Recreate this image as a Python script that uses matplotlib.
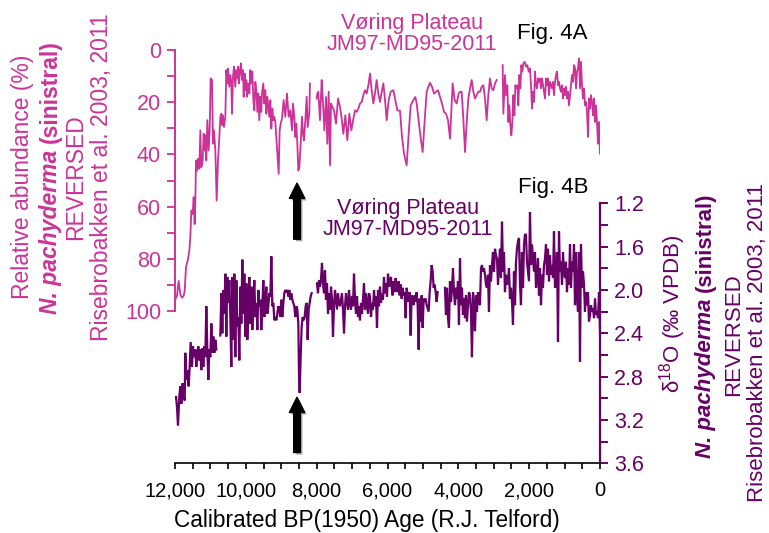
import numpy as np
import matplotlib
matplotlib.use('Agg')
import matplotlib.pyplot as plt
from matplotlib.ticker import MultipleLocator, FuncFormatter
import matplotlib.patheffects as pe

plt.rcParams['font.family'] = ['Liberation Sans', 'DejaVu Sans']
plt.rcParams['mathtext.fontset'] = 'custom'
plt.rcParams['mathtext.rm'] = 'Liberation Sans'

PINK = '#CC3399'
PURPLE = '#660066'
nan = np.nan

# ---- Fig 4A: relative abundance of N. pachyderma (sinistral), % (reversed axis)
pink_age = [12000, 11990, 11944, 11897, 11850, 11803, 11756, 11727, 11690, 11633,
            11596, 11567, 11539, 11501, 11473, 11445, 11426, 11407, 11379, 11351,
            11313, 11285, 11257, 11219, 11191, 11163, 11144, 11116, 11087, 11050,
            11021, 10993, 10955, 10927, 10899, 10861, 10824, 10786, 10748, 10720,
            10692, 10673, 10645, 10617, 10579, 10551, 10523, 10504, 10466, 10438,
            10410, 10391, 10363, 10334, 10297, 10268, 10240, 10221, 10193, 10165,
            10137, 10108, 10080, 10061, 10033, 10014, 9986, 9967, 9939, 9901,
            9873, 9845, 9817, 9788, 9760, 9732, 9704, 9675, 9647, 9619,
            9591, 9563, 9544, 9506, 9478, 9450, 9421, 9393, 9365, 9337,
            9308, 9280, 9252, 9224, 9195, 9167, 9073, 9045, 9017, 8979,
            8932, 8885, 8838, 8791, 8744, 8697, 8668, 8631, 8602, 8574,
            8546, 8518, 8489, 8452, 8414, 8386, 8358, 8320, 8282, 8254,
            8207, 8190, nan,
            8000, 7981, 7953, 7906, 7859, 7830, 7783, 7736, 7699, 7661,
            7623, 7595, 7557, 7510, 7454, 7397, 7341, 7294, 7247, 7190,
            7134, 7077, 7021, 6964, 6917, 6870, 6823, 6776, 6729, 6682,
            6635, 6588, 6531, 6494, 6447, 6400, 6353, 6306, 6259, 6211,
            6164, 6117, 6070, 6023, 5967, 5910, 5835, 5778, 5722, 5647,
            5590, 5534, 5459, 5402, 5346, 5270, 5214, 5176, 5101, 5054,
            5007, 4950, 4894, 4847, 4800, 4743, 4687, 4630, 4574, 4517,
            4461, 4404, 4348, 4291, 4235, 4197, 4160, 4103, 4047, 3990,
            3953, 3906, 3859, 3811, 3764, 3717, 3670, 3623, 3576, 3529,
            3482, 3435, 3388, 3341, 3294, 3247, 3200, 3153, 3106, 3059,
            3011, 2964, 2917, nan,
            2748, 2729, 2682, 2654, 2616, 2588, 2560, 2531, 2503, 2475,
            2447, 2418, 2390, 2362, 2334, 2306, 2277, 2249, 2221, 2193,
            2164, 2127, 2089, 2051, 2014, 1976, 1948, 1920, 1891, 1863,
            1835, 1807, 1778, 1750, 1722, 1694, 1666, 1637, 1609, 1581,
            1553, 1524, 1496, 1468, 1440, 1411, 1383, 1355, 1327, 1298,
            1270, 1242, 1214, 1186, 1157, 1129, 1101, 1073, 1044, 1016,
            988, 960, 931, 903, 875, 847, 818, 790, 762, 734,
            705, 677, 649, 621, 593, 564, 536, 508, 480, 451,
            423, 395, 367, 338, 310, 282, 254, 225, 197, 169,
            141, 113, 85, 56, 28, 0]
pink_val = [94.9, 95.5, 94.2, 88.5, 93.6, 94.9, 94.2, 92.3, 83.3, 80.1,
            76.9, 71.8, 61.5, 62.8, 56.4, 66.7, 57.7, 42.3, 46.2, 41.7,
            45.5, 30.8, 44.9, 42.3, 32.1, 38.5, 32.7, 42.3, 26.9, 38.5,
            30.8, 10.9, 11.5, 35.9, 30.8, 38.5, 57.7, 42.3, 33.3, 25.6,
            24.4, 28.8, 25.0, 29.5, 25.6, 7.7, 12.8, 7.1, 14.1, 9.6,
            12.2, 24.4, 10.3, 6.4, 14.1, 7.7, 10.9, 6.4, 12.8, 7.7,
            5.1, 11.5, 7.7, 17.9, 9.0, 15.4, 11.5, 17.9, 12.8, 16.7,
            7.7, 12.8, 8.3, 19.2, 23.1, 12.2, 15.4, 23.7, 16.7, 26.9,
            17.9, 23.7, 16.7, 12.8, 20.5, 15.4, 24.4, 17.9, 21.8, 25.6,
            19.2, 30.1, 22.4, 26.9, 25.6, 27.6, 47.4, 30.8, 28.2, 26.3,
            19.2, 25.6, 16.7, 25.6, 23.1, 30.8, 20.5, 25.6, 33.3, 28.2,
            35.9, 46.2, 44.9, 35.9, 25.6, 32.1, 34.6, 26.9, 17.9, 29.5,
            24.0, 12.8, nan,
            18.6, 16.7, 16.0, 26.9, 11.5, 18.0, 30.8, 18.0, 35.9, 16.0,
            44.2, 20.5, 21.8, 23.1, 28.2, 18.6, 21.8, 26.3, 32.1, 25.0,
            34.6, 24.4, 30.8, 26.3, 23.1, 23.7, 22.4, 20.5, 19.9, 17.3,
            15.4, 16.7, 12.8, 9.0, 15.4, 20.5, 16.7, 11.5, 16.7, 19.9,
            16.0, 12.8, 19.2, 26.9, 19.2, 16.0, 15.4, 19.2, 23.1, 23.3,
            33.3, 39.7, 44.2, 32.1, 21.2, 19.2, 18.0, 20.5, 29.5, 34.6,
            39.1, 26.9, 16.0, 14.1, 12.6, 14.1, 16.7, 16.0, 15.4, 18.0,
            20.5, 23.7, 24.4, 26.9, 34.0, 23.1, 12.8, 19.2, 20.5, 16.7,
            16.0, 16.0, 26.3, 39.1, 27.6, 18.6, 14.7, 11.5, 16.0, 18.6,
            17.3, 16.0, 16.0, 14.1, 13.5, 18.6, 26.9, 17.3, 10.9, 14.7,
            15.4, 12.8, 11.5, nan,
            5.8, 24.4, 9.6, 17.3, 13.5, 27.6, 21.2, 28.8, 32.7, 27.6,
            17.3, 25.0, 13.5, 14.7, 13.5, 21.2, 9.6, 14.7, 5.8, 8.3,
            5.1, 4.5, 6.4, 5.8, 8.3, 7.0, 13.5, 22.4, 16.0, 19.9,
            8.3, 13.5, 14.7, 10.9, 12.2, 10.9, 14.7, 10.9, 13.5, 16.0,
            18.6, 10.9, 13.5, 10.9, 17.3, 12.2, 13.5, 14.7, 12.2, 17.3,
            12.2, 9.6, 8.3, 13.5, 12.2, 14.7, 16.0, 13.5, 18.6, 14.7,
            17.3, 14.1, 18.6, 16.0, 21.2, 17.3, 13.5, 9.6, 12.2, 5.8,
            7.0, 14.7, 8.3, 7.0, 3.2, 14.7, 4.5, 13.5, 18.6, 14.7,
            21.2, 19.9, 23.7, 33.3, 18.6, 22.4, 17.3, 19.9, 25.0, 18.6,
            27.6, 21.2, 27.6, 35.9, 27.6, 39.7]

# ---- Fig 4B: d18O of N. pachyderma (sinistral), permil VPDB (reversed axis)
purple_age = [12000, 11972, 11944, 11916, 11878, 11850, 11821, 11784, 11756, 11727,
              11709, 11680, 11652, 11614, 11586, 11558, 11520, 11492, 11464, 11426,
              11398, 11370, 11341, 11313, 11285, 11257, 11229, 11200, 11172, 11144,
              11116, 11087, 11059, 11031, 11003, 10974, 10946, 10918, 10890, 10861,
              10833, nan,
              10720, 10692, 10664, 10636, 10607, 10579, 10551, 10523, 10494, 10466,
              10438, 10410, 10381, 10353, 10325, 10297, 10268, 10240, 10212, 10184,
              10155, 10127, 10099, 10071, 10043, 10014, 9986, 9958, 9930, 9901,
              9873, 9845, 9817, 9788, 9760, 9732, 9704, 9675, 9647, 9619,
              9591, 9563, 9534, 9506, 9478, 9450, 9421, 9393, 9365, 9337,
              9308, 9280, 9252, 9224, 9195, 9167, 9139, 9111, 9083, 9054,
              9026, 8998, 8970, 8941, 8913, 8885, 8857, 8828, 8800, 8772,
              8744, 8716, 8687, 8659, 8631, 8603, 8574, 8546, 8518, 8499,
              8480, 8452, 8424, 8396, 8367, 8339, 8311, 8283, 8254, 8226,
              8198, 8170, 8141, nan,
              7991, 7963, 7934, 7906, 7878, 7850, 7821, 7793, 7765, 7737,
              7708, 7680, 7652, 7624, 7595, 7567, 7539, 7511, 7483, 7454,
              7426, 7398, 7370, 7341, 7313, 7285, 7257, 7228, 7200, 7172,
              7144, 7115, 7087, 7059, 7031, 7002, 6974, 6946, 6918, 6889,
              6861, 6833, 6805, 6777, 6748, 6720, 6692, 6664, 6635, 6607,
              6579, 6551, 6523, 6494, 6466, 6438, 6410, 6381, 6353, 6325,
              6297, 6268, 6240, 6212, 6184, 6156, 6127, 6099, 6071, 6043,
              6014, 5986, 5958, 5930, 5901, 5883, 5855, 5826, 5798, 5770,
              5742, 5713, 5685, 5657, 5629, 5600, 5572, 5544, 5516, 5487,
              5459, 5431, 5403, 5374, 5346, 5318, 5290, 5262, 5233, 5205,
              5177, 5149, 5120, 5092, 5064, 5036, 5007, 4979, 4951, 4923,
              4895, 4866, 4838, 4810, 4782, 4753, 4725, 4697, 4669, 4640,
              4612, 4584, nan,
              4377, 4349, 4320, 4292, 4264, 4236, 4207, 4179, 4151, 4123,
              4094, 4066, 4038, 4010, 3982, 3953, 3925, 3897, 3869, 3840,
              3812, 3784, 3756, 3727, 3699, 3671, 3643, 3615, 3586, 3558,
              3530, 3502, 3473, 3445, 3417, 3389, 3360, 3332, 3304, 3276,
              3247, 3219, 3191, 3163, 3135, 3106, 3078, 3050, 3022, 2993,
              2965, 2937, 2909, 2880, 2852, 2824, 2796, 2767, 2739, 2711,
              2683, 2655, 2626, 2598, 2570, 2542, 2513, 2485, 2457, 2429,
              2400, 2372, 2344, 2316, 2287, 2259, 2231, 2203, 2174, 2146,
              2118, 2090, 2062, 2033, 2005, 1977, 1949, 1920, 1892, 1864,
              1836, 1807, 1779, 1751, 1723, 1694, 1666, 1638, 1610, 1582,
              1553, 1525, 1497, 1469, 1440, 1412, 1384, 1356, 1327, 1299,
              1271, 1243, 1214, 1186, 1158, 1130, 1102, 1073, 1045, 1017,
              989, 960, 932, 904, 876, 847, 819, 791, 763, 734,
              706, 678, 650, 621, 593, 565, 537, 509, 480, 452,
              424, 396, 367, 339, 311, 282, 254, 226, 198, 169,
              141, 113, 85, 56, 28, 0]
purple_val = [3.00, 2.98, 3.08, 3.25, 2.98, 2.89, 3.05, 2.86, 2.98, 3.02,
              2.58, 2.83, 2.74, 2.89, 2.71, 2.48, 2.71, 2.52, 2.62, 2.55,
              2.71, 2.58, 2.52, 2.65, 2.55, 2.74, 2.54, 2.71, 2.52, 2.62,
              2.15, 2.55, 2.83, 2.55, 2.62, 2.31, 2.58, 2.43, 2.58, 2.46,
              2.55, nan,
              2.42, 2.03, 2.40, 2.00, 2.22, 1.85, 2.43, 1.88, 2.12, 1.91,
              2.25, 2.71, 1.88, 2.46, 1.85, 2.62, 1.91, 2.34, 2.25, 2.65,
              1.97, 2.31, 1.72, 2.22, 1.85, 2.43, 1.94, 2.46, 2.15, 1.88,
              2.31, 1.97, 2.37, 2.09, 1.91, 2.25, 2.12, 2.37, 2.00, 2.15,
              2.09, 2.37, 2.15, 1.91, 2.25, 2.09, 1.97, 2.22, 2.15, 2.03,
              2.06, 1.69, 2.15, 2.12, 2.28, 2.25, 2.28, 2.22, 2.15, 2.18,
              2.25, 2.09, 2.25, 2.12, 2.03, 2.00, 2.02, 2.00, 2.06, 2.00,
              2.09, 2.03, 2.09, 2.12, 2.15, 2.25, 2.15, 2.18, 2.31, 2.77,
              2.95, 2.62, 2.34, 2.25, 2.28, 2.25, 2.15, 2.12, 2.46, 2.18,
              2.12, 2.06, 2.03, nan,
              1.94, 2.03, 1.91, 1.97, 1.91, 1.75, 1.94, 2.03, 1.82, 2.09,
              1.94, 2.22, 2.03, 2.18, 1.97, 2.09, 2.43, 2.15, 2.00, 2.09,
              2.18, 2.03, 2.12, 2.15, 2.09, 2.03, 2.18, 2.40, 2.15, 2.03,
              2.12, 2.18, 2.00, 2.12, 2.18, 2.06, 2.15, 1.85, 2.09, 2.22,
              2.06, 2.25, 2.15, 2.28, 2.12, 2.22, 2.09, 1.94, 2.18, 2.03,
              2.12, 2.22, 2.03, 2.06, 2.25, 2.12, 2.18, 2.00, 2.15, 2.06,
              2.35, 2.00, 2.15, 1.97, 2.12, 2.03, 2.09, 1.88, 2.03, 1.94,
              2.06, 1.85, 1.97, 1.91, 1.88, 1.98, 2.05, 1.92, 2.02, 1.89,
              1.98, 2.02, 1.92, 2.05, 1.95, 2.08, 1.98, 2.05, 2.02, 2.26,
              1.98, 2.05, 2.11, 2.02, 2.42, 2.05, 2.08, 2.14, 2.05, 2.11,
              2.02, 2.14, 2.55, 2.08, 2.29, 2.05, 2.35, 2.08, 2.11, 2.08,
              2.14, 2.17, 2.20, 2.02, 1.92, 1.77, 1.83, 1.98, 1.95, 2.02,
              2.11, 2.02, nan,
              1.98, 2.23, 1.98, 2.26, 2.35, 1.92, 2.11, 1.98, 1.80, 2.02,
              2.14, 1.98, 2.08, 1.92, 2.32, 1.71, 2.14, 1.98, 2.23, 2.08,
              2.26, 2.05, 2.29, 2.14, 2.02, 2.05, 2.20, 2.62, 2.02, 2.14,
              2.38, 2.05, 2.20, 2.02, 2.11, 2.14, 1.80, 1.77, 1.83, 1.80,
              1.86, 1.95, 1.98, 1.86, 2.20, 1.77, 1.92, 1.77, 1.65, 1.83,
              1.62, 1.68, 1.71, 1.95, 1.77, 1.62, 1.89, 1.37, 1.83, 1.65,
              2.02, 1.86, 1.95, 1.92, 1.80, 2.08, 1.98, 2.11, 2.32, 1.83,
              2.14, 1.74, 1.62, 1.55, 1.52, 1.95, 2.14, 1.65, 1.98, 1.58,
              1.49, 1.49, 1.74, 1.83, 1.92, 1.28, 1.77, 1.58, 1.71, 1.83,
              1.65, 1.98, 1.89, 1.71, 2.05, 1.80, 2.14, 1.86, 1.98, 1.77,
              1.71, 1.58, 1.86, 1.62, 1.92, 1.68, 1.86, 1.77, 1.89, 1.46,
              1.98, 1.89, 1.65, 2.48, 1.46, 1.83, 1.74, 1.95, 1.65, 1.83,
              1.89, 1.74, 2.02, 1.80, 1.95, 1.58, 1.98, 1.74, 1.83, 1.58,
              2.14, 1.65, 2.05, 2.20, 1.65, 2.66, 1.58, 1.98, 1.83, 1.95,
              2.20, 2.02, 2.14, 2.02, 2.29, 2.23, 2.14, 2.20, 2.17, 2.26,
              2.08, 2.23, 2.20, 2.26, 2.02, 2.38]

x_ticks = [12000, 10000, 8000, 6000, 4000, 2000, 0]
pink_ticks = [0, 20, 40, 60, 80, 100]
purple_ticks = [1.2, 1.6, 2.0, 2.4, 2.8, 3.2, 3.6]
event_age = 8555

W, H = 769, 533
fig = plt.figure(figsize=(W / 100, H / 100), dpi=100)


def fx(px):
    return px / W


def fy(py):
    return 1 - py / H


# bottom axes (purple, right axis, x axis)
ax_b = fig.add_axes([fx(175), fy(463.3), fx(600) - fx(175), fy(203.3) - fy(463.3)])
ax_b.plot(purple_age, purple_val, color=PURPLE, lw=1.6, solid_joinstyle='miter')
ax_b.set_xlim(12000, 0)
ax_b.set_ylim(3.6, 1.2)
ax_b.patch.set_visible(False)
for s in ['top', 'left']:
    ax_b.spines[s].set_visible(False)
ax_b.spines['right'].set_color(PURPLE)
ax_b.spines['right'].set_linewidth(1.6)
ax_b.spines['bottom'].set_color('black')
ax_b.spines['bottom'].set_linewidth(1.2)
ax_b.yaxis.tick_right()
ax_b.set_yticks(purple_ticks)
ax_b.yaxis.set_minor_locator(MultipleLocator(0.2))
ax_b.yaxis.set_major_formatter(FuncFormatter(lambda v, p: f'{v:.1f}'))
ax_b.tick_params(axis='y', which='both', direction='out', length=6, width=1.4,
                 color=PURPLE, labelcolor=PURPLE, labelsize=15.5, pad=4)
ax_b.set_xticks(x_ticks)
ax_b.xaxis.set_minor_locator(MultipleLocator(500))
ax_b.xaxis.set_major_formatter(FuncFormatter(lambda v, p: f'{int(v):,}'))
ax_b.tick_params(axis='x', which='both', direction='out', length=4, width=1.2,
                 color='black', labelcolor='black', labelsize=14.5, pad=9)

# top axes (pink)
ax_t = fig.add_axes([fx(175), fy(311), fx(600) - fx(175), fy(50) - fy(311)])
ax_t.patch.set_visible(False)
ax_t.plot(pink_age, pink_val, color=PINK, lw=1.3)
ax_t.set_xlim(12000, 0)
ax_t.set_ylim(100, 0)
for s in ['top', 'right', 'bottom']:
    ax_t.spines[s].set_visible(False)
ax_t.spines['left'].set_color(PINK)
ax_t.spines['left'].set_linewidth(1.4)
ax_t.set_xticks([])
ax_t.set_yticks(pink_ticks)
ax_t.yaxis.set_minor_locator(MultipleLocator(10))
ax_t.tick_params(axis='y', which='both', direction='out', length=6, width=1.3,
                 color=PINK, labelcolor=PINK, labelsize=15.5, pad=4)

# arrows
shadow = [pe.SimplePatchShadow(offset=(1.5, -1.5), alpha=0.35), pe.Normal()]
ax_t.annotate('', xy=(event_age, 51), xytext=(event_age, 72.5),
              arrowprops=dict(arrowstyle='simple,head_length=1.1,head_width=1.1,tail_width=0.48',
                              fc='black', ec='black', mutation_scale=10,
                              shrinkA=0, shrinkB=0, path_effects=shadow))
ax_b.annotate('', xy=(event_age, 2.99), xytext=(event_age, 3.5),
              arrowprops=dict(arrowstyle='simple,head_length=1.1,head_width=1.1,tail_width=0.48',
                              fc='black', ec='black', mutation_scale=10,
                              shrinkA=0, shrinkB=0, path_effects=shadow))

# titles
fig.text(fx(412), fy(34), 'Vøring Plateau\nJM97-MD95-2011', color=PINK, fontsize=15.5,
         ha='center', va='center', linespacing=1.05)
fig.text(fx(552), fy(33), 'Fig. 4A', color='black', fontsize=16, ha='center', va='center')
fig.text(fx(408), fy(219), 'Vøring Plateau\nJM97-MD95-2011', color=PURPLE, fontsize=15.5,
         ha='center', va='center', linespacing=1.05)
fig.text(fx(553), fy(188), 'Fig. 4B', color='black', fontsize=16, ha='center', va='center')

# x label
fig.text(fx(367), fy(520), 'Calibrated BP(1950) Age (R.J. Telford)', color='black',
         fontsize=16.3, ha='center', va='center')


def rot_label(x_px, yc_px, parts, color, size):
    texts = []
    for s, w, st in parts:
        t = fig.text(0, 0, s, rotation=90, color=color, fontsize=size,
                     fontweight=w, fontstyle=st, ha='center', va='bottom')
        texts.append(t)
    fig.canvas.draw()
    r = fig.canvas.get_renderer()
    lens = [t.get_window_extent(r).height for t in texts]
    gap = 0.28 * size * 100 / 72
    total = sum(lens) + gap * (len(texts) - 1)
    y0 = (H - yc_px) - total / 2
    for t, L in zip(texts, lens):
        t.set_position((fx(x_px), y0 / H))
        y0 += L + gap


FS = 16.5
# left labels (pink)
rot_label(23, 177, [('Relative abundance (%)', 'normal', 'normal')], PINK, FS)
rot_label(50, 177, [('N. pachyderma', 'bold', 'italic'), ('(sinistral)', 'bold', 'normal')], PINK, FS)
rot_label(76, 177, [('REVERSED', 'normal', 'normal')], PINK, FS)
rot_label(102, 177, [('Risebrobakken et al. 2003, 2011', 'normal', 'normal')], PINK, FS)

# right labels (purple)
rot_label(673, 314, [('δ$^{18}$O (‰ VPDB)', 'normal', 'normal')], PURPLE, 16)
rot_label(705, 325, [('N. pachyderma', 'bold', 'italic'), ('(sinistral)', 'bold', 'normal')], PURPLE, 16)
rot_label(734, 335, [('REVERSED', 'normal', 'normal')], PURPLE, 16)
rot_label(758, 343, [('Risebrobakken et al. 2003, 2011', 'normal', 'normal')], PURPLE, 16)

fig.savefig('out.png', dpi=100)
